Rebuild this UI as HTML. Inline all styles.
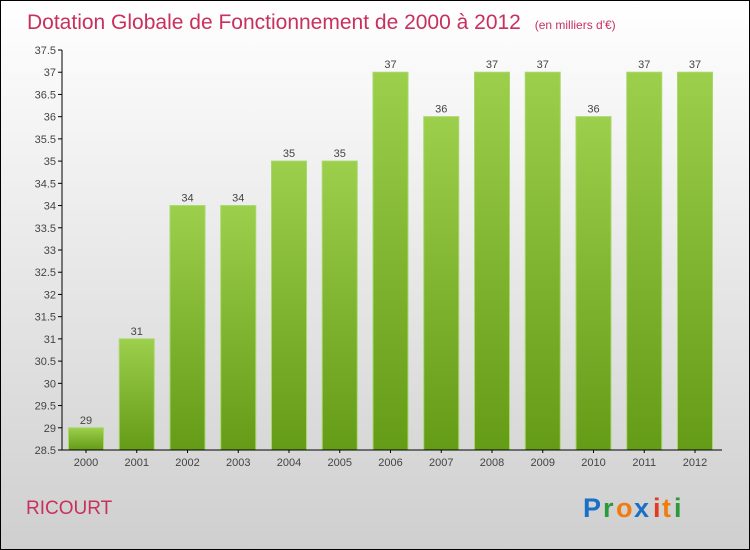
<!DOCTYPE html>
<html><head><meta charset="utf-8"><style>
body{margin:0;}
#c{position:relative;width:748px;height:548px;border:1px solid #000;background:linear-gradient(#fff,#cfcfcf);font-family:"Liberation Sans",sans-serif;overflow:hidden;}
</style></head><body>
<div id="c">
<svg id="s" width="748" height="548">
<defs><linearGradient id="g" x1="0" y1="0" x2="0" y2="1"><stop offset="0" stop-color="#9ccf4c"/><stop offset="1" stop-color="#649b17"/></linearGradient></defs>
<text x="26" y="28" font-size="21" fill="#c8305f">Dotation Globale de Fonctionnement de 2000 à 2012 <tspan font-size="12" dx="8">(en milliers d'€)</tspan></text>
<text x="25" y="513" font-size="19" fill="#c8305f">RICOURT</text>
<g font-size="27" font-weight="bold">
<text x="582" y="516" fill="#1a6fc7">P</text><text x="602" y="516" fill="#2a9a3a">r</text><text x="615" y="516" fill="#f07c10">o</text><text x="633" y="516" fill="#1a6fc7">x</text><text x="652" y="516" fill="#e03a20">i</text><text x="661" y="516" fill="#f07c10">t</text><text x="673" y="516" fill="#2a9a3a">i</text>
</g>
<g id="plot"></g>
</svg></div>
<script>
const categories=["2000","2001","2002","2003","2004","2005","2006","2007","2008","2009","2010","2011","2012"];
const values=[29,31,34,34,35,35,37,36,37,37,36,37,37];
const yTicks=[28.5,29,29.5,30,30.5,31,31.5,32,32.5,33,33.5,34,34.5,35,35.5,36,36.5,37,37.5];
const ns="http://www.w3.org/2000/svg";
const p=document.getElementById('plot');
const y0=449,y1=49,vmin=28.5,vmax=37.5;
const Y=v=>y0-(v-vmin)/(vmax-vmin)*(y0-y1);
const X=i=>85+i*50.75;
function mk(t,a){const e=document.createElementNS(ns,t);for(const k in a)e.setAttribute(k,a[k]);p.appendChild(e);return e;}
yTicks.forEach(v=>{
 const l=mk('line',{x1:57,x2:61,y1:Y(v),y2:Y(v),stroke:'#000'});
 
 
 const t=mk('text',{x:55,y:Y(v)+4,'text-anchor':'end','font-size':11,fill:'#444'});
 t.textContent=v;
 
 
});
values.forEach((v,i)=>{
 const r=mk('rect',{x:X(i)-17.5,y:Y(v),width:35,height:y0-Y(v),fill:'url(#g)',stroke:'#a8d86a','stroke-width':1});
 
 
 const t=mk('text',{x:X(i),y:Y(v)-4,'text-anchor':'middle','font-size':11,fill:'#444'});
 t.textContent=v;
 
 
 const c=mk('text',{x:X(i),y:y0+16,'text-anchor':'middle','font-size':11,fill:'#444'});
 c.textContent=categories[i];
 
 
 const tk=mk('line',{x1:X(i),x2:X(i),y1:y0,y2:y0+3,stroke:'#000'});
 
 
});
const ya=mk('line',{x1:61,x2:61,y1:y1,y2:y0,stroke:'#000'});


const xa=mk('line',{x1:61,x2:721,y1:y0,y2:y0,stroke:'#000'});


</script>
</body></html>
